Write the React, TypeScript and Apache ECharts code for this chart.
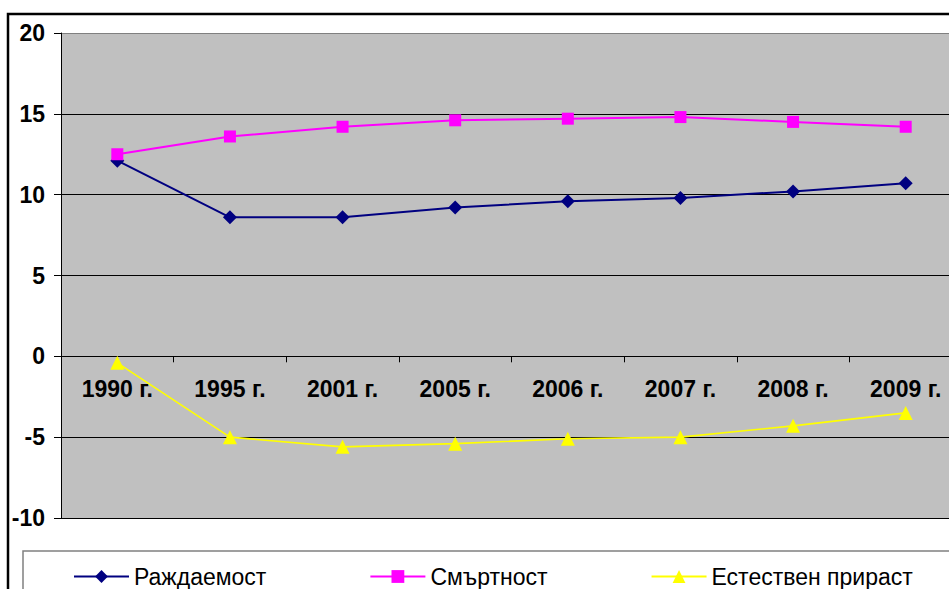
import React, { useEffect, useRef } from "react";
import * as echarts from "echarts";

const categories = ["1990 г.", "1995 г.", "2001 г.", "2005 г.", "2006 г.", "2007 г.", "2008 г.", "2009 г."];
const birthRate = [12.1, 8.6, 8.6, 9.2, 9.6, 9.8, 10.2, 10.7];
const deathRate = [12.5, 13.6, 14.2, 14.6, 14.7, 14.8, 14.5, 14.2];
const naturalGrowth = [-0.4, -5.0, -5.6, -5.4, -5.1, -5.0, -4.3, -3.5];
const seriesNames = ["Раждаемост", "Смъртност", "Естествен прираст"];

const FONT = "'Liberation Sans', Arial, sans-serif";

export default function App() {
  const ref = useRef<HTMLDivElement>(null);
  useEffect(() => {
    if (!ref.current) return;
    const chart = echarts.init(ref.current, undefined, { renderer: "svg" });
    chart.setOption({
      animation: false,
      backgroundColor: "#ffffff",
      grid: { left: 61, right: 0, top: 33, bottom: 71, backgroundColor: "#C0C0C0", show: true, borderWidth: 0 },
      legend: {
        left: 68,
        top: 560,
        itemWidth: 55,
        itemHeight: 16,
        itemGap: 103,
        textStyle: { fontFamily: FONT, fontSize: 23, color: "#000" },
        data: seriesNames,
      },
      xAxis: {
        type: "category",
        data: categories,
        boundaryGap: true,
        position: "bottom",
        offset: -161.7,
        axisLine: { onZero: false, lineStyle: { color: "#000", width: 1 } },
        axisTick: { show: true, length: 6, lineStyle: { color: "#000" } },
        axisLabel: { margin: 21, fontFamily: FONT, fontSize: 23, fontWeight: "bold", color: "#000", interval: 0 },
        splitLine: { show: false },
      },
      yAxis: {
        type: "value",
        min: -10,
        max: 20,
        interval: 5,
        axisLine: { show: true, lineStyle: { color: "#000", width: 1 } },
        axisTick: { show: true, length: 7, lineStyle: { color: "#000" } },
        axisLabel: { margin: 16, fontFamily: FONT, fontSize: 23, fontWeight: "bold", color: "#000" },
        splitLine: {
          show: true,
          lineStyle: { color: ["#000", "#000", "#000", "#000", "#000", "#000", "#808080"], width: 1 },
        },
      },
      series: [
        {
          name: seriesNames[0],
          type: "line",
          data: birthRate,
          symbol: "diamond",
          symbolSize: 14,
          itemStyle: { color: "#000080" },
          lineStyle: { color: "#000080", width: 2 },
        },
        {
          name: seriesNames[1],
          type: "line",
          data: deathRate,
          symbol: "rect",
          symbolSize: 12,
          itemStyle: { color: "#FF00FF" },
          lineStyle: { color: "#FF00FF", width: 2 },
        },
        {
          name: seriesNames[2],
          type: "line",
          data: naturalGrowth,
          symbol: "triangle",
          symbolSize: 14,
          itemStyle: { color: "#FFFF00" },
          lineStyle: { color: "#FFFF00", width: 1.6 },
        },
      ],
      graphic: [
        {
          type: "rect",
          z: -1,
          silent: true,
          shape: { x: 23, y: 551, width: 1000, height: 100 },
          style: { fill: "#ffffff", stroke: "#808080", lineWidth: 1.5 },
        },
        {
          type: "rect",
          silent: true,
          shape: { x: 8, y: 14, width: 1000, height: 1000 },
          style: { fill: "none", stroke: "#000", lineWidth: 2.5 },
        },
      ],
    });
    return () => chart.dispose();
  }, []);
  return (
    <div style={{ position: "fixed", left: 0, top: 0, width: 949, height: 589, overflow: "hidden" }}>
      <div ref={ref} style={{ width: 962, height: 589 }} />
    </div>
  );
}
